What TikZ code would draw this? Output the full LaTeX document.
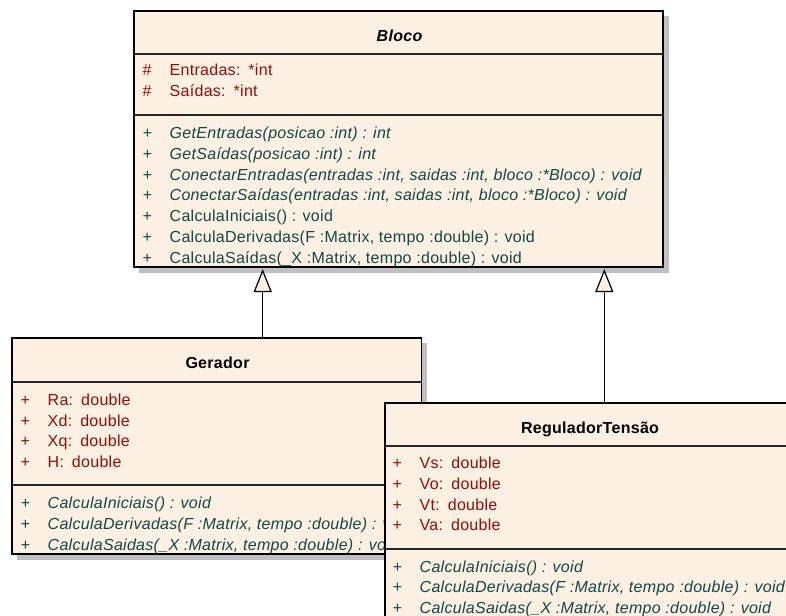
\documentclass[tikz,border=0pt]{standalone}
\usepackage{fontspec}
\setmainfont{Liberation Sans}[LetterSpace=1.8]
\usetikzlibrary{arrows.meta}

\definecolor{classfill}{RGB}{251,240,225}
\definecolor{shadowgray}{RGB}{192,192,192}
\definecolor{attrred}{RGB}{150,12,12}
\definecolor{opteal}{RGB}{18,72,72}

\tikzset{
  classbox/.style={rectangle, draw=black, line width=1.3bp, fill=classfill,
    inner sep=0pt, outer sep=0pt},
  boxshadow/.style={fill=shadowgray},
  divider/.style={line width=1.3bp, draw=black!85},
  txt/.style={anchor=base west, inner sep=0pt, font=\fontsize{16bp}{19bp}\selectfont},
  attr/.style={txt, text=attrred},
  oper/.style={txt, text=opteal},
  absop/.style={txt, text=opteal, font=\fontsize{16bp}{19bp}\selectfont\itshape},
  classtitle/.style={anchor=base, inner sep=0pt, font=\fontsize{16bp}{19bp}\selectfont\bfseries},
  inherit/.style={line width=1.3bp, draw=black,
    -{Triangle[length=23bp, width=18bp, fill=classfill, line width=1.2bp]}},
}

% gap between an attribute name and its type
\newcommand\typegap{:\hspace{8bp}}

% one member row: #1 name, #2 style, #3 marker x, #4 text x, #5 baseline, #6 marker, #7 text
\newcommand\umlrow[7]{%
  \node[#2] (#1m) at (#3,#5) {#6};
  \node[#2] (#1t) at (#4,#5) {#7};}

\begin{document}
\begin{tikzpicture}[x=1bp, y=-1bp]
\useasboundingbox (0,0) rectangle (786,616);
\clip (0,0) rectangle (786,616);

% ---------- Bloco ----------
\fill[boxshadow] (139,16) rectangle (669,273);
\node[classbox, minimum width=529bp, minimum height=256bp] (bloco) at (398.5,139) {};
\draw[divider] (134,54) -- (663,54);
\draw[divider] (134,115) -- (663,115);
\node[classtitle, font=\fontsize{16bp}{19bp}\selectfont\bfseries\itshape] (blocot) at (399.5,42) {Bloco};
\umlrow{ba1}{attr}{142.5}{169.5}{76}{\#}{Entradas\typegap*int}
\umlrow{ba2}{attr}{142.5}{169.5}{96.7}{\#}{Saídas\typegap*int}
\umlrow{bo1}{absop}{142.5}{169.5}{138.8}{+}{GetEntradas(posicao :int) : int}
\umlrow{bo2}{absop}{142.5}{169.5}{159.5}{+}{GetSaídas(posicao :int) : int}
\umlrow{bo3}{absop}{142.5}{169.5}{180.2}{+}{ConectarEntradas(entradas :int, saidas :int, bloco :*Bloco) : void}
\umlrow{bo4}{absop}{142.5}{169.5}{200.9}{+}{ConectarSaídas(entradas :int, saidas :int, bloco :*Bloco) : void}
\umlrow{bo5}{oper}{142.5}{169.5}{221.6}{+}{CalculaIniciais() : void}
\umlrow{bo6}{oper}{142.5}{169.5}{242.3}{+}{CalculaDerivadas(F :Matrix, tempo :double) : void}
\umlrow{bo7}{oper}{142.5}{169.5}{263}{+}{CalculaSaídas(\_X :Matrix, tempo :double) : void}

% ---------- Gerador ----------
\fill[boxshadow] (17,343) rectangle (427,560);
\node[classbox, minimum width=409.5bp, minimum height=216bp] (gerador) at (216.75,446) {};
\draw[divider] (12,382) -- (421.5,382);
\draw[divider] (12,485) -- (421.5,485);
\node[classtitle] (gert) at (217.5,368.8) {Gerador};
\umlrow{ga1}{attr}{20.5}{47.5}{405.5}{+}{Ra\typegap double}
\umlrow{ga2}{attr}{20.5}{47.5}{426.2}{+}{Xd\typegap double}
\umlrow{ga3}{attr}{20.5}{47.5}{446.6}{+}{Xq\typegap double}
\umlrow{ga4}{attr}{20.5}{47.5}{467.4}{+}{H\typegap double}
\umlrow{go1}{absop}{20.5}{47.5}{508.8}{+}{CalculaIniciais() : void}
\umlrow{go2}{absop}{20.5}{47.5}{529.6}{+}{CalculaDerivadas(F :Matrix, tempo :double) : void}
\umlrow{go3}{absop}{20.5}{47.5}{550.4}{+}{CalculaSaidas(\_X :Matrix, tempo :double) : void}

% ---------- ReguladorTensão ----------
\fill[boxshadow] (390,408) rectangle (801,625);
\node[classbox, minimum width=410bp, minimum height=216bp] (regulador) at (590,511) {};
\draw[divider] (385,446) -- (795,446);
\draw[divider] (385,549) -- (795,549);
\node[classtitle] (regt) at (590,433.8) {ReguladorTensão};
\umlrow{ra1}{attr}{392.5}{419.5}{468.8}{+}{Vs\typegap double}
\umlrow{ra2}{attr}{392.5}{419.5}{489.5}{+}{Vo\typegap double}
\umlrow{ra3}{attr}{392.5}{419.5}{510.2}{+}{Vt\typegap double}
\umlrow{ra4}{attr}{392.5}{419.5}{530.9}{+}{Va\typegap double}
\umlrow{ro1}{absop}{392.5}{419.5}{572.2}{+}{CalculaIniciais() : void}
\umlrow{ro2}{absop}{392.5}{419.5}{592.9}{+}{CalculaDerivadas(F :Matrix, tempo :double) : void}
\umlrow{ro3}{absop}{392.5}{419.5}{613.4}{+}{CalculaSaidas(\_X :Matrix, tempo :double) : void}

% ---------- generalisation arrows ----------
\coordinate (gtop) at (262.7,0);
\coordinate (rtop) at (604.3,0);
\draw[inherit] (gerador.north -| gtop) -- ([yshift=-2bp]bloco.south -| gtop);
\draw[inherit] (regulador.north -| rtop) -- ([yshift=-2bp]bloco.south -| rtop);
\end{tikzpicture}
\end{document}
